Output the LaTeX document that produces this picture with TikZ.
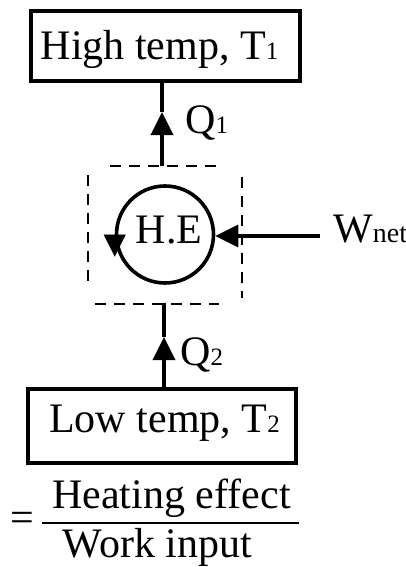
\documentclass[tikz,border=0pt]{standalone}
\usepackage{fontspec}
\setmainfont{Liberation Serif}
\usetikzlibrary{arrows.meta}
\newcommand{\bigf}{\fontsize{42}{50}\selectfont}
\newcommand{\subf}[1]{{\fontsize{25}{28}\selectfont #1}}
\begin{document}
\begin{tikzpicture}[x=1pt,y=-1pt,
  boxstyle/.style={draw, line width=3.8pt, inner sep=0pt, font=\bigf},
  wire/.style={line width=3.6pt},
  arr/.style={line width=3.6pt, -{Triangle[length=23pt,width=22pt]}},
  dashline/.style={line width=2.5pt, dash pattern=on 11pt off 8pt},
  lbl/.style={font=\bigf, inner sep=0pt, anchor=base west}]
\useasboundingbox (0,0) rectangle (406,567);
% boxes
\node[boxstyle, minimum width=269pt, text height=49pt, text depth=21pt] (hot) at (165.5,46) {High temp, T\subf{1}\hspace*{12pt}};
\node[boxstyle, minimum width=268pt, text height=43pt, text depth=31pt] (cold) at (162,426) {\hspace*{5pt}Low temp, T\subf{2}};
% engine
\node[circle, draw, line width=3.6pt, minimum size=97pt, inner sep=0pt, font=\bigf, text height=28pt, text depth=10pt] (he) at (165,234.5) {\hspace*{8pt}H.E};
\draw[-{Triangle[length=22pt,width=22pt]}, line width=0.1pt, fill=black] (he.west) -- ++(0,-22pt);
% dashed enclosure
\draw[dashline] (110,166) -- (223,166);
\draw[dashline] (95,304) -- (219,304);
\draw[dashline] (88,175) -- (88,283);
\draw[dashline] (242,177) -- (242,298);
% Q1
\coordinate (d1) at (162,166);
\coordinate (t1) at (162,112);
\draw[arr] (d1) -- (t1);
\draw[wire] (t1) -- (d1 |- hot.south);
\node[lbl] (q1) at (185,133) {Q\subf{1}};
% Q2
\coordinate (d2) at (164,303);
\coordinate (t2) at (164,337);
\draw[arr] (t2 |- cold.north) -- (t2);
\draw[wire] (t2) -- (d2);
\node[lbl] (q2) at (180,365) {Q\subf{2}};
% W net
\coordinate (w0) at (320,236);
\draw[arr] (w0) -- (w0 -| he.east);
\node[lbl] (wn) at (333,242) {W{\fontsize{28}{32}\selectfont net}};
% formula
\node[font=\bigf, inner sep=0pt, anchor=base] (num) at (171.5,508) {Heating effect};
\node[font=\bigf, inner sep=0pt, anchor=base] (den) at (157.5,557) {Work input};
\coordinate (fl) at (42,523);
\coordinate (fr) at (299,523);
\draw[line width=1.6pt] (fl) -- (fr);
\node[font=\bigf, inner sep=0pt] (eqs) at (22.5,522) {=};
\end{tikzpicture}
\end{document}
